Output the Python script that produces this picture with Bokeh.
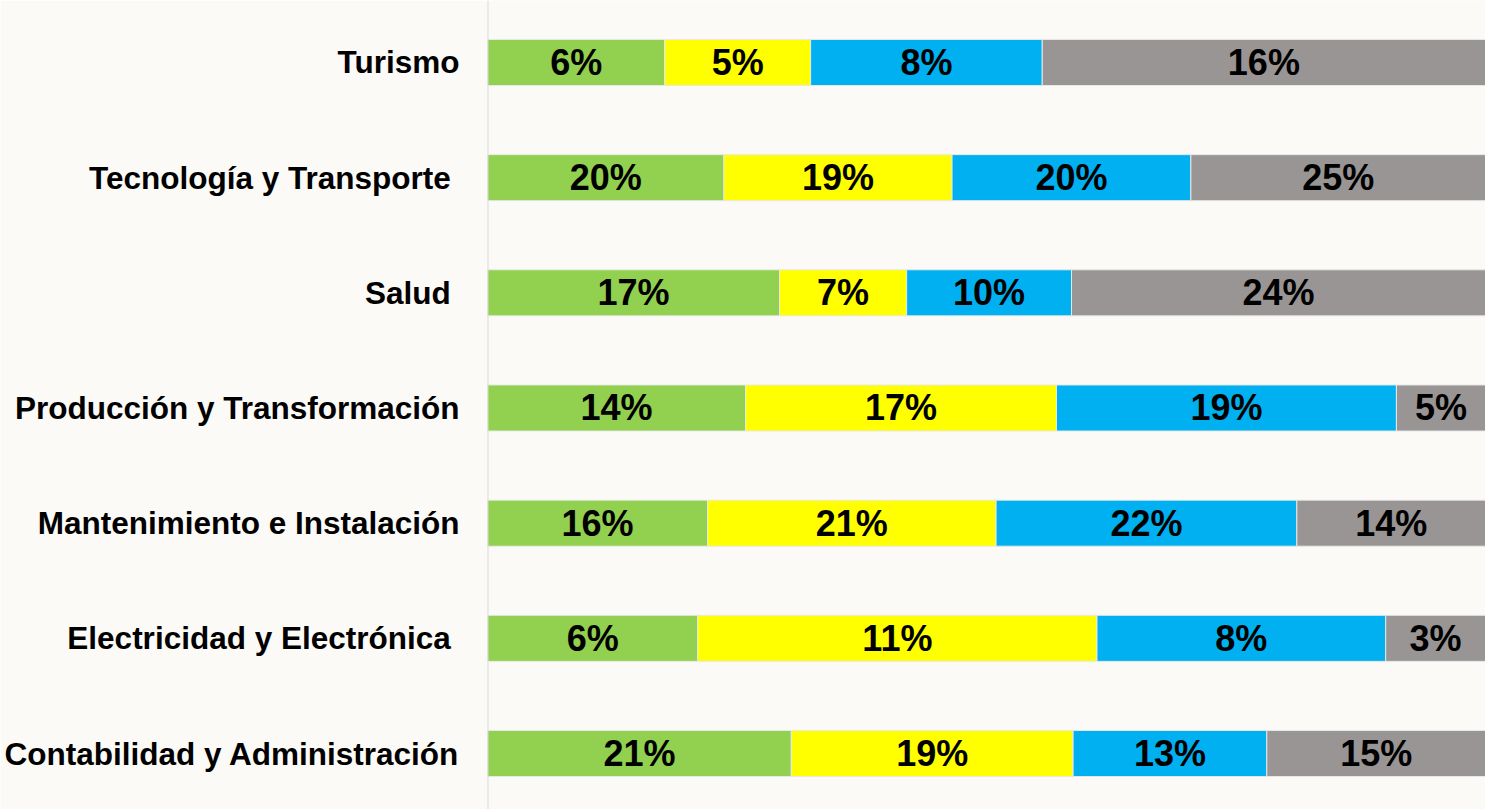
from bokeh.plotting import figure
from bokeh.models import Range1d, ColumnDataSource, LabelSet, Span, FixedTicker
from bokeh.core.properties import value
from bokeh.embed import file_html
from bokeh.resources import INLINE

categories = ["Turismo", "Tecnología y Transporte\u00a0", "Salud\u00a0",
              "Producción y Transformación", "Mantenimiento e Instalación",
              "Electricidad y Electrónica\u00a0", "Contabilidad y Administración"]
series_names = ["Serie 1", "Serie 2", "Serie 3", "Serie 4"]
s1 = [6.2, 19.9, 17.0, 14.2, 16.1, 5.9, 20.7]
s2 = [5.1, 19.2, 7.4, 17.1, 21.1, 11.2, 19.2]
s3 = [8.1, 20.1, 9.6, 18.7, 22.0, 8.1, 13.2]
s4 = [15.5, 24.8, 24.1, 4.9, 13.8, 2.8, 14.9]
colors = ["#92D050", "#FFFF00", "#00B0F0", "#989594"]

W, H = 1485, 809
LEFT = 487  # frame left in figure pixels

n = len(categories)
ys = [n - i for i in range(n)]
px_per_unit = 115.17
y_top = ys[0] + 62 / px_per_unit
y_bot = ys[-1] - 56 / px_per_unit

p = figure(width=W, height=H, output_backend="svg", toolbar_location=None,
           x_range=Range1d(0, 100), y_range=Range1d(y_bot, y_top),
           min_border_left=LEFT, min_border_right=0, min_border_top=0, min_border_bottom=0)
p.background_fill_color = "#FBFAF6"
p.border_fill_color = "#FBFAF6"
p.outline_line_color = None
p.xgrid.visible = False
p.ygrid.visible = False
p.xaxis.visible = False

p.add_layout(Span(location=0, dimension="height", line_color="#D9D9D9", line_width=2))

series = [s1, s2, s3, s4]
totals = [sum(v[i] for v in series) for i in range(n)]
left = [0.0] * n
for k, vals in enumerate(series):
    pct = [100 * vals[i] / totals[i] for i in range(n)]
    right = [left[i] + pct[i] for i in range(n)]
    src = ColumnDataSource(dict(
        y=ys, left=left, right=right,
        mid=[(left[i] + right[i]) / 2 for i in range(n)],
        lab=[f"{round(vals[i])}%" for i in range(n)]))
    p.hbar(y="y", left="left", right="right", height=0.4, source=src,
           fill_color=colors[k], line_color="#E8E8E8", line_width=1)
    p.add_layout(LabelSet(x="mid", y="y", text="lab", source=src, text_align="center",
                          text_baseline="middle", text_font=value("Liberation Sans"),
                          text_font_style="bold", text_font_size="36px", text_color="#000000"))
    left = right

ax = p.yaxis[0]
ax.ticker = FixedTicker(ticks=ys)
ax.major_label_overrides = {y: c for y, c in zip(ys, categories)}
ax.major_tick_line_color = None
ax.major_tick_out = 0
ax.major_tick_in = 0
ax.minor_tick_line_color = None
ax.minor_tick_out = 0
ax.minor_tick_in = 0
ax.axis_line_color = None
ax.major_label_text_font = "Liberation Sans"
ax.major_label_text_font_style = "bold"
ax.major_label_text_font_size = "31.5px"
ax.major_label_text_color = "#000000"
ax.major_label_standoff = 28

open("out.html", "w").write(file_html(p, INLINE))
